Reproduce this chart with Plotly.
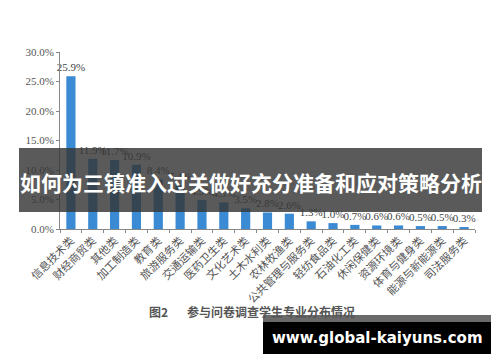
import plotly.graph_objects as go

categories = ["信息技术类", "财经商贸类", "其他类", "加工制造类", "教育类", "旅游服务类",
              "交通运输类", "医药卫生类", "文化艺术类", "土木水利类", "农林牧渔类",
              "公共管理与服务类", "轻纺食品类", "石油化工类", "休闲保健类", "资源环境类",
              "体育与健身类", "能源与新能源类", "司法服务类"]
values = [25.9, 11.9, 11.7, 10.9, 8.4, 7.4, 4.9, 4.5, 3.5, 2.8, 2.6,
          1.3, 1.0, 0.7, 0.6, 0.6, 0.5, 0.5, 0.3]
y_ticks = [0, 5, 10, 15, 20, 25, 30]
y_tick_labels = ["0.0%", "5.0%", "10.0%", "15.0%", "20.0%", "25.0%", "30.0%"]
banner_text = "如何为三镇准入过关做好充分准备和应对策略分析"
caption_fig = "图2"
caption_text = "参与问卷调查学生专业分布情况"
watermark = "www.global-kaiyuns.com"

OFF = 8  # page body margin
W, H = 492, 354
L, R, T, B = 52, 25, 44, 133
pw, ph = W - L - R, H - T - B


def px(x):
    return (x - OFF - L) / pw


def py(y):
    return (H - B - (y - OFF)) / ph


fig = go.Figure()
fig.add_trace(go.Bar(
    x=categories, y=values,
    marker=dict(color="#3a8ad4", line=dict(width=0)),
    text=[f"{v:.1f}%" for v in values],
    textposition="outside",
    constraintext="none",
    textfont=dict(family="Liberation Serif", size=11, color="#444444"),
    cliponaxis=False,
    width=0.42,
))

fig.update_layout(
    width=W, height=H,
    margin=dict(l=L, r=R, t=T, b=B, autoexpand=False),
    paper_bgcolor="white", plot_bgcolor="white",
    showlegend=False,
    xaxis=dict(
        automargin=False,
        showline=True, linecolor="#888888", linewidth=1,
        ticks="outside", ticklen=3, tickcolor="#888888", tickson="boundaries",
        tickangle=-45,
        tickfont=dict(family="Noto Sans CJK SC", size=11, color="#555555"),
        showgrid=False,
    ),
    yaxis=dict(
        automargin=False,
        range=[0, 30],
        tickvals=y_ticks, ticktext=y_tick_labels,
        showline=True, linecolor="#888888", linewidth=1,
        ticks="outside", ticklen=3, tickcolor="#888888",
        tickfont=dict(family="Liberation Serif", size=11, color="#555555"),
        showgrid=False, zeroline=False,
    ),
)

shapes = [
    dict(type="rect", xref="paper", yref="paper",
         x0=px(19), x1=px(482), y0=py(148), y1=py(212),
         fillcolor="rgba(54,54,54,0.82)", line=dict(width=0), layer="above"),
    dict(type="rect", xref="paper", yref="paper",
         x0=px(263), x1=px(491), y0=py(315), y1=py(322),
         fillcolor="#6a6a6a", line=dict(width=0), layer="above"),
    dict(type="rect", xref="paper", yref="paper",
         x0=px(263), x1=px(491), y0=py(322), y1=py(354),
         fillcolor="#000000", line=dict(width=0), layer="above"),
]
fig.update_layout(shapes=shapes)

annotations = [
    dict(text=banner_text, xref="paper", yref="paper", x=px(251), y=py(182),
         showarrow=False, xanchor="center", yanchor="middle",
         font=dict(family="Noto Sans CJK SC", size=21, color="white", weight="bold")),
    dict(text=caption_fig, xref="paper", yref="paper", x=px(158), y=py(311),
         showarrow=False, xanchor="center", yanchor="middle",
         font=dict(family="Noto Sans CJK SC", size=12, color="#555555", weight="bold")),
    dict(text=caption_text, xref="paper", yref="paper", x=px(271), y=py(311),
         showarrow=False, xanchor="center", yanchor="middle",
         font=dict(family="Noto Sans CJK SC", size=12, color="#555555", weight="bold")),
    dict(text=watermark, xref="paper", yref="paper", x=px(377), y=py(338),
         showarrow=False, xanchor="center", yanchor="middle",
         font=dict(family="DejaVu Sans", size=15, color="white", weight="bold")),
]
fig.update_layout(annotations=annotations)

fig.write_html("out.html")
